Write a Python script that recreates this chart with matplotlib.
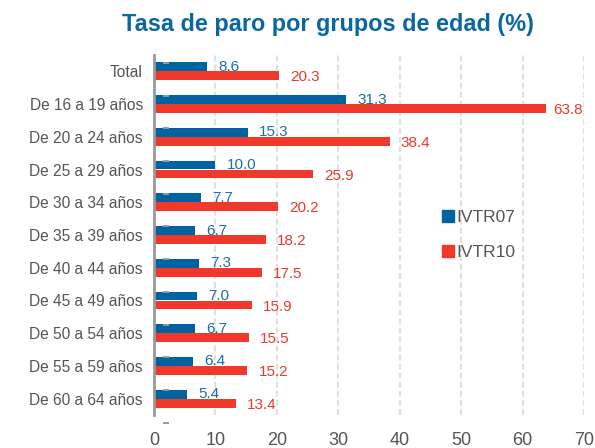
import matplotlib
matplotlib.use("Agg")
import matplotlib.pyplot as plt
from matplotlib.patches import Patch
import numpy as np

plt.rcParams['font.family'] = ['Liberation Sans', 'DejaVu Sans']

categories = ["Total", "De 16 a 19 años", "De 20 a 24 años", "De 25 a 29 años",
              "De 30 a 34 años", "De 35 a 39 años", "De 40 a 44 años",
              "De 45 a 49 años", "De 50 a 54 años", "De 55 a 59 años",
              "De 60 a 64 años"]
ivtr07 = [8.6, 31.3, 15.3, 10.0, 7.7, 6.7, 7.3, 7.0, 6.7, 6.4, 5.4]
ivtr10 = [20.3, 63.8, 38.4, 25.9, 20.2, 18.2, 17.5, 15.9, 15.5, 15.2, 13.4]
series_names = ["IVTR07", "IVTR10"]
xticks = [0, 10, 20, 30, 40, 50, 60, 70]

BLUE = "#0063a1"
RED = "#f0382b"
BLUE_TXT = "#1a6fa8"
RED_TXT = "#e83a2e"

fig = plt.figure(figsize=(5.95, 4.48), dpi=100)
ax = fig.add_axes([154/595, 1-415/448, (584-154)/595, (415-55)/448])

y = np.arange(len(categories))
off = 0.137
h = 0.27
ax.barh(y - off, ivtr07, height=h, color=BLUE, zorder=3)
ax.barh(y + off, ivtr10, height=h, color=RED, zorder=3)

for yi, v in zip(y, ivtr07):
    ax.text(v + 1.8, yi - off, f"{v:.1f}", color=BLUE_TXT, fontsize=11,
            va="center", ha="left", zorder=4)
for yi, v in zip(y, ivtr10):
    ax.text(min(v + 1.8, 65.0), yi + off + 0.05, f"{v:.1f}", color=RED_TXT,
            fontsize=11, va="center", ha="left", zorder=4)

# small grey dash markers
for i in range(len(categories) + 1):
    ax.plot([1.5, 2.5], [i - 0.26, i - 0.26], color="#999999", lw=1.4,
            solid_capstyle="butt", zorder=5, clip_on=False)

ax.set_xlim(0, 70)
ax.set_ylim(len(categories) - 0.5, -0.5)
ax.set_xticks(xticks)
ax.set_xticklabels([str(t) for t in xticks], fontsize=13, color="#555555")
ax.set_yticks(y)
ax.set_yticklabels(categories, fontsize=11.2, color="#555555")
ax.tick_params(axis="x", length=0, pad=12)
ax.tick_params(axis="y", length=0, pad=8)
ax.xaxis.grid(True, color="#e0e0e0", linestyle=(0, (2.9, 1.45)), lw=1.5, zorder=0)
ax.set_axisbelow(True)
for s in ["top", "right", "bottom"]:
    ax.spines[s].set_visible(False)
ax.spines["left"].set_color("#999999")
ax.spines["left"].set_linewidth(2)
ax.spines["left"].set_zorder(6)

handles = [Patch(color=BLUE), Patch(color=RED)]
leg = fig.legend(handles, series_names, loc="center left",
                 bbox_to_anchor=(426/595, 1-235/448), frameon=False,
                 fontsize=12.5, handlelength=0.7, handleheight=0.7,
                 handletextpad=0.15, labelspacing=1.15, labelcolor="#555555")

fig.text((123+533)/2/595, 1-25/448, "Tasa de paro por grupos de edad (%)",
         ha="center", va="center", fontsize=16.9, fontweight="bold", color="#0a67a0")

fig.savefig("out.png", dpi=100)
